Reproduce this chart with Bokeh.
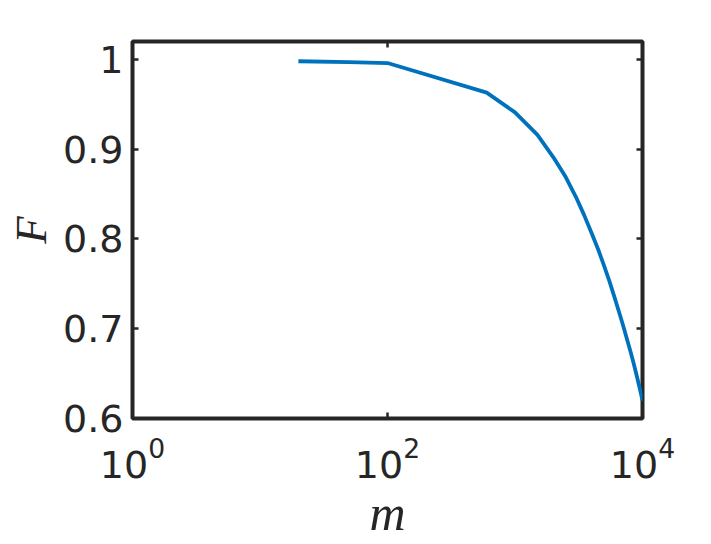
from bokeh.plotting import figure
from bokeh.models import (Range1d, FixedTicker, LinearAxis, LogAxis,
                          CustomJSTickFormatter)
from bokeh.embed import file_html
from bokeh.resources import INLINE

# ---- data ----
m_values = [20, 50, 100, 600, 1000, 1500, 2000, 2500, 3000, 3500, 4000, 4500,
            5000, 5500, 6000, 6500, 7000, 7500, 8000, 8500, 9000, 9500, 10000]
F_values = [0.998, 0.997, 0.996, 0.963, 0.941, 0.916, 0.891, 0.869, 0.847,
            0.826, 0.806, 0.788, 0.770, 0.753, 0.736, 0.720, 0.705, 0.690,
            0.676, 0.662, 0.648, 0.634, 0.620]
x_ticks = [1, 100, 10000]
y_ticks = [0.6, 0.7, 0.8, 0.9, 1.0]
x_label = "m"
y_label = "F"

AX = "#262626"
LINE = "#0072BD"

p = figure(width=711, height=544, x_axis_type="log",
           x_range=Range1d(1, 10000), y_range=Range1d(0.6, 1.02),
           output_backend="svg", toolbar_location=None,
           min_border_left=132, min_border_right=69,
           min_border_top=41, min_border_bottom=126)

p.outline_line_color = AX
p.outline_line_width = 4
p.outline_line_alpha = 1.0
p.xgrid.visible = False
p.ygrid.visible = False
p.background_fill_color = "white"
p.border_fill_color = "white"

yfmt = CustomJSTickFormatter(code="return (Math.round(tick*10)/10).toString();")
blank = CustomJSTickFormatter(code="return '';")

def style_axis(ax, ticks):
    ax.ticker = FixedTicker(ticks=ticks)
    ax.axis_line_color = None
    ax.major_tick_in = 6
    ax.major_tick_out = 0
    ax.major_tick_line_color = AX
    ax.major_tick_line_width = 2.5
    ax.minor_tick_line_color = None
    ax.major_label_text_font = "DejaVu Sans"
    ax.major_label_text_font_size = "38px"
    ax.major_label_text_color = AX

xa = p.xaxis[0]
style_axis(xa, x_ticks)
xa.major_label_standoff = 18
xa.axis_label = x_label
xa.axis_label_text_font = "Liberation Serif"
xa.axis_label_text_font_style = "italic"
xa.axis_label_text_font_size = "50px"
xa.axis_label_text_color = AX
xa.axis_label_standoff = 4

ya = p.yaxis[0]
style_axis(ya, y_ticks)
ya.formatter = yfmt
ya.major_label_standoff = 9
ya.axis_label = y_label
ya.axis_label_text_font = "Liberation Serif"
ya.axis_label_text_font_style = "italic"
ya.axis_label_text_font_size = "45px"
ya.axis_label_text_color = AX
ya.axis_label_standoff = 4

top = LogAxis()
style_axis(top, x_ticks)
top.formatter = blank
top.major_label_text_font_size = "0px"
top.major_label_standoff = 0
p.add_layout(top, "above")

right = LinearAxis()
style_axis(right, y_ticks)
right.formatter = blank
right.major_label_text_font_size = "0px"
right.major_label_standoff = 0
p.add_layout(right, "right")

p.line(m_values, F_values, line_color=LINE, line_width=3.8, line_join="round")

open("out.html", "w").write(file_html(p, INLINE))
